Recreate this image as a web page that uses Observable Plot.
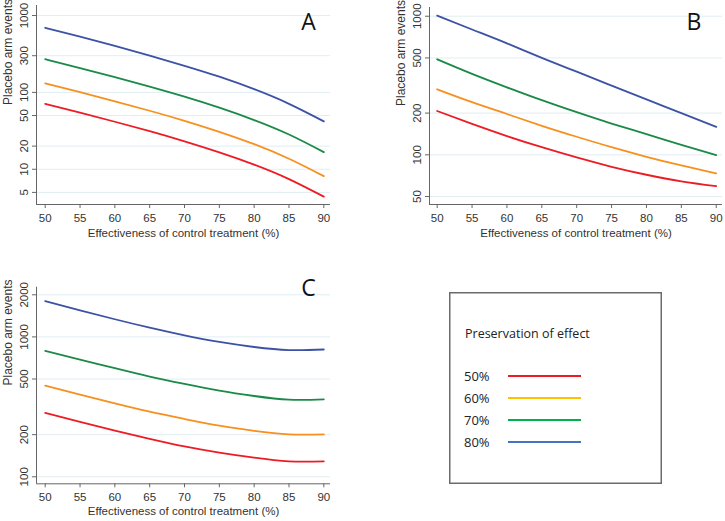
<!DOCTYPE html>
<html>
<head>
<meta charset="utf-8">
<script src="https://cdn.jsdelivr.net/npm/d3@7"></script>
<script src="https://cdn.jsdelivr.net/npm/@observablehq/plot@0.6"></script>
<style>
  body { margin: 0; background: #fff; }
  #fig { position: relative; width: 725px; height: 521px; overflow: hidden; background: #fff; }
  #fig > * { position: absolute; }
</style>
</head>
<body>
<div id="fig"></div>
<script>
// Effectiveness of the control treatment (%) on the x axis
const effectiveness = [50, 55, 60, 65, 70, 75, 80, 85, 90];
const preservation = ["50%", "60%", "70%", "80%"];
const lineColors = ["#ed1c24", "#f7901e", "#1a8a47", "#3c52a5"];
const legendColors = ["#ed1c24", "#ffc000", "#00b050", "#4472c4"];

// Scenario A: placebo arm events needed, one array per preservation level
const eventsA50 = [71, 54.5, 41.5, 31.3, 23.1, 16.6, 11.5, 7.45, 4.4];
const eventsA60 = [131, 100.5, 76.6, 57.7, 42.7, 30.7, 21.2, 13.7, 8.13];
const eventsA70 = [270, 207, 158, 119, 87.9, 63.2, 43.6, 28.3, 16.7];
const eventsA80 = [693, 530, 402, 301, 222, 160, 110, 71, 42];

// Scenario B
const eventsB50 = [207, 167, 136.5, 113.5, 95.7, 82, 71.8, 64.3, 59.4];
const eventsB60 = [297, 240, 197, 162, 135, 113.5, 96.8, 83.8, 73.5];
const eventsB70 = [489, 384, 307, 248, 203, 168, 141, 118, 99.5];
const eventsB80 = [1011, 802, 637, 501, 398, 316, 251, 200, 159];

// Scenario C
const eventsC50 = [286, 247, 214, 187, 165, 149, 137, 129, 129];
const eventsC60 = [449, 387, 335, 292, 259, 232, 213, 201, 201];
const eventsC70 = [794, 689, 597, 520, 461, 413, 378, 356, 358];
const eventsC80 = [1803, 1549, 1337, 1164, 1026, 920, 847, 805, 813];

// Axis tick values
const xTicks = [50, 55, 60, 65, 70, 75, 80, 85, 90];
const yTicksA = [5, 10, 20, 50, 100, 300, 1000];
const yTicksB = [50, 100, 200, 500, 1000];
const yTicksC = [100, 200, 500, 1000, 2000];

const xTitle = "Effectiveness of control treatment (%)";
const yTitle = "Placebo arm events";

function panel({letter, series, yTicks, xDomain, yDomain, left, top, width, height, margin, letterDx, letterDy, titleDy}) {
  const rows = [];
  series.forEach((vals, i) =>
    vals.forEach((v, j) => rows.push({x: effectiveness[j], y: v, s: preservation[i]}))
  );
  const chart = Plot.plot({
    width, height,
    marginTop: margin[0], marginRight: margin[1], marginBottom: margin[2], marginLeft: margin[3],
    style: {fontFamily: "'Liberation Sans', Arial, sans-serif", fontSize: "11.5px", color: "#333", background: "transparent", overflow: "visible"},
    x: {domain: xDomain},
    y: {type: "log", domain: yDomain},
    color: {domain: preservation, range: lineColors},
    marks: [
      Plot.gridY(yTicks, {stroke: "#e1edf2", strokeOpacity: 1, strokeWidth: 1}),
      Plot.ruleX([xDomain[0]], {stroke: "#666", strokeWidth: 1}),
      Plot.ruleY([yDomain[0]], {stroke: "#666", strokeWidth: 1}),
      Plot.axisX(xTicks, {tickSize: 4, tickPadding: 5, stroke: "#666", label: null}),
      // y tick marks; their labels are rotated text marks below
      Plot.axisY(yTicks, {tickSize: 4, stroke: "#666", fill: "none", label: null}),
      Plot.text(yTicks, {y: d => d, text: d => String(d), frameAnchor: "left", dx: -12, rotate: -90,
        lineAnchor: "middle", textAnchor: "middle", fontSize: 11.5, fill: "#333"}),
      Plot.line(rows, {x: "x", y: "y", stroke: "s", z: "s", curve: "natural", strokeWidth: 1.8}),
      Plot.text([xTitle], {text: d => d, frameAnchor: "bottom", dy: titleDy, lineAnchor: "middle", fontSize: 11.5, fill: "#333"}),
      Plot.text([yTitle], {text: d => d, frameAnchor: "left", dx: -28, rotate: -90, lineAnchor: "middle", fontSize: 12, fill: "#333"}),
      Plot.text([letter], {text: d => d, frameAnchor: "top-right", dx: letterDx, dy: letterDy, lineAnchor: "middle", textAnchor: "middle",
        fontSize: 23, fontFamily: "'Open Sans', sans-serif", fill: "#111"})
    ]
  });
  chart.style.left = left + "px";
  chart.style.top = top + "px";
  return chart;
}

const fig = document.getElementById("fig");

fig.appendChild(panel({
  letter: "A", series: [eventsA50, eventsA60, eventsA70, eventsA80], yTicks: yTicksA,
  xDomain: [48.75, 90.96], yDomain: [3.48, 1350],
  left: 0, top: 0, width: 340, height: 245, margin: [5, 10, 41, 36],
  letterDx: -22, letterDy: 16.7, titleDy: 29
}));

fig.appendChild(panel({
  letter: "B", series: [eventsB50, eventsB60, eventsB70, eventsB80], yTicks: yTicksB,
  xDomain: [48.9, 90.9], yDomain: [43.8, 1156],
  left: 355, top: 0, width: 370, height: 245, margin: [7, 3, 41, 74],
  letterDx: -28.5, letterDy: 14.7, titleDy: 29
}));

fig.appendChild(panel({
  letter: "C", series: [eventsC50, eventsC60, eventsC70, eventsC80], yTicks: yTicksC,
  xDomain: [48.75, 90.96], yDomain: [89.1, 2266],
  left: 0, top: 270, width: 340, height: 251, margin: [16.7, 10, 37.7, 36],
  letterDx: -22, letterDy: 1.6, titleDy: 27.4
}));

// Legend box: preservation level and its line colour
const legend = d3.create("svg")
  .attr("width", 213).attr("height", 192)
  .style("left", "449px").style("top", "292px")
  .style("font-family", "'Open Sans', sans-serif");
legend.append("rect")
  .attr("x", 0.75).attr("y", 0.75).attr("width", 211.5).attr("height", 190.5)
  .attr("fill", "#fff").attr("stroke", "#6b6b6b").attr("stroke-width", 1.5);
legend.append("text")
  .attr("x", 16).attr("y", 46)
  .attr("font-size", 12.5).attr("fill", "#222")
  .text("Preservation of effect");
preservation.forEach((p, i) => {
  const cy = 84 + i * 22;
  legend.append("text")
    .attr("x", 15).attr("y", cy).attr("dy", "0.35em")
    .attr("font-size", 13).attr("fill", "#222")
    .text(p);
  legend.append("line")
    .attr("x1", 59).attr("x2", 132).attr("y1", cy).attr("y2", cy)
    .attr("stroke", legendColors[i]).attr("stroke-width", 2);
});
fig.appendChild(legend.node());
</script>
</body>
</html>
